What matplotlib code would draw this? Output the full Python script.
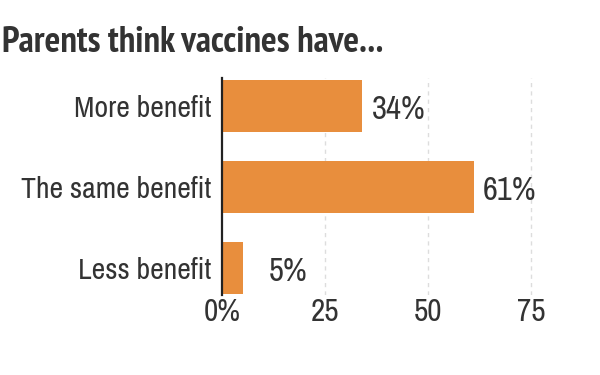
import matplotlib
matplotlib.use("Agg")
import matplotlib.pyplot as plt

plt.rcParams['font.family'] = ['Archivo Narrow', 'DejaVu Sans']

categories = ["More benefit", "The same benefit", "Less benefit"]
values = [34, 61, 5]
xticks = [0, 25, 50, 75]
xtick_labels = ["0%", "25", "50", "75"]

bar_color = "#e88e3d"
text_color = "#333333"

fig = plt.figure(figsize=(6, 3.75), dpi=100)
ax = fig.add_axes([0.37, 0.213, 0.55, 0.579])

ypos = list(range(len(categories)))
ax.barh(ypos, values, height=0.64, color=bar_color, zorder=2)

# value labels, pushed out a bit for very short bars
for y, v in zip(ypos, values):
    lx = max(v, 9) + 2.3
    ax.text(lx, y + 0.05, f"{v}%", va="center", ha="left",
            fontsize=23.5, color=text_color)

ax.set_xlim(0, 80)
ax.set_ylim(2.33, -0.34)
ax.set_xticks(xticks)
ax.set_xticklabels(xtick_labels, fontsize=22.5, color=text_color)
ax.set_yticks(ypos)
ax.set_yticklabels(categories, fontsize=21.5, color=text_color)
ax.tick_params(axis="both", length=0)
ax.tick_params(axis="x", pad=2)
ax.tick_params(axis="y", pad=8)

for s in ["top", "right", "bottom"]:
    ax.spines[s].set_visible(False)
ax.spines["left"].set_color("#222222")
ax.spines["left"].set_linewidth(1.6)

for t in xticks[1:]:
    ax.axvline(t, color="#dddddd", linestyle=(0, (3, 3)), linewidth=1, zorder=1)

fig.text(0.003, 0.861, "Parents think vaccines have...", fontsize=26.5,
         fontweight="bold", color=text_color, ha="left", va="baseline",
         family=["PT Sans Narrow", "DejaVu Sans"])

fig.savefig("out.png", dpi=100)
